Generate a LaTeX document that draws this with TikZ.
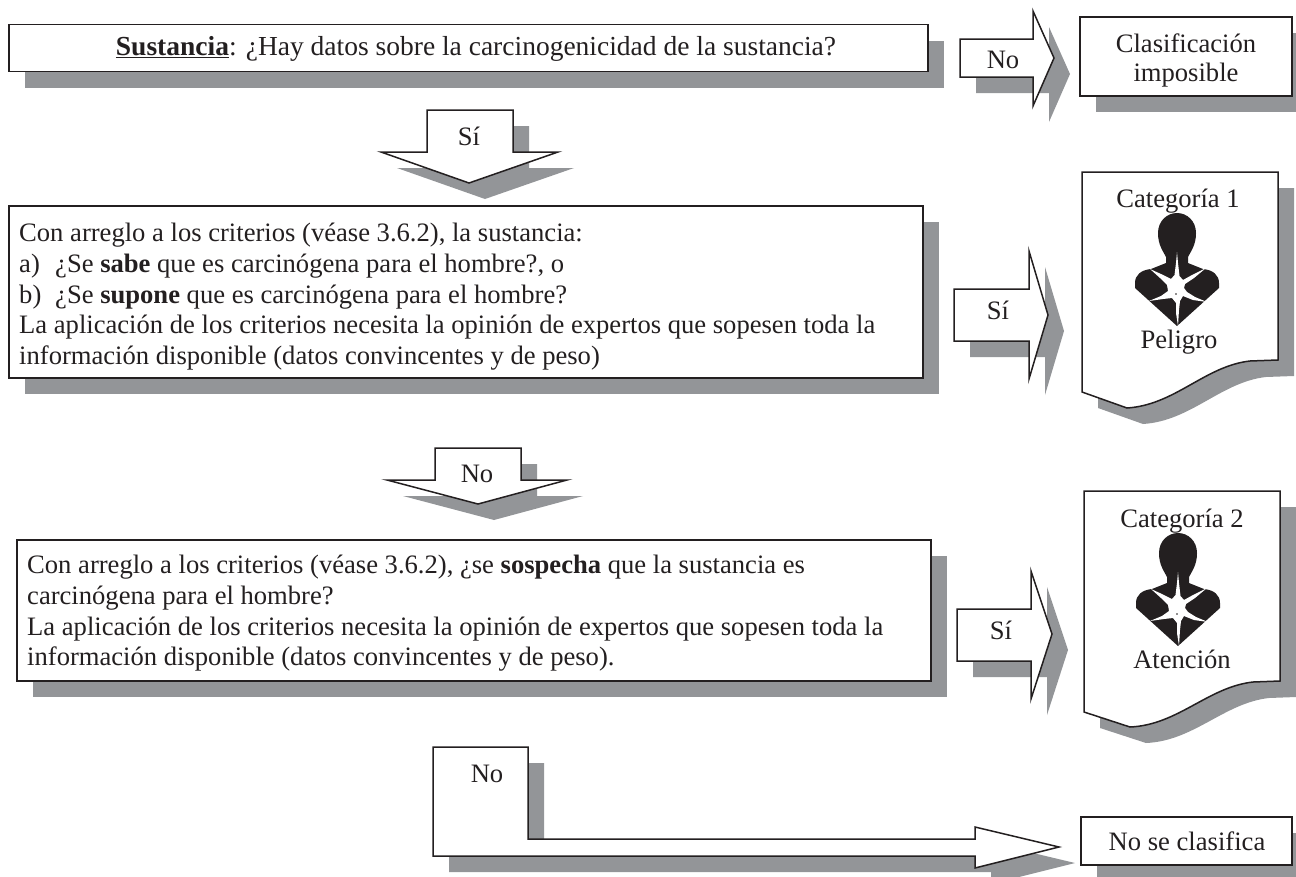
\documentclass[tikz,border=0pt]{standalone}
\usepackage{fontspec}
\setmainfont{Liberation Serif}
\usetikzlibrary{shadows}
\definecolor{ink}{HTML}{231F20}
\definecolor{shadegrey}{HTML}{939598}
\tikzset{
  shad/.style={drop shadow={shadow xshift=16pt,shadow yshift=-16pt,opacity=1,fill=shadegrey}},
  outline/.style={draw=ink,fill=white,line width=1.5pt,miter limit=20,shad},
  box/.style={outline,anchor=north west,inner sep=0pt,outer sep=0pt},
  label/.style={anchor=base,inner sep=0pt,text=ink,font=\fontsize{26.6}{31}\selectfont},
  para/.style={anchor=north west,inner sep=0pt,text=ink,align=left,font=\fontsize{26.6}{30.7}\selectfont},
  hazard/.pic={
    \fill[ink] (-11,44) .. controls (-14,38) and (-19,32) .. (-19,20)
      .. controls (-19,8) and (-10,0) .. (0,0)
      .. controls (10,0) and (19,8) .. (19,20)
      .. controls (19,32) and (14,38) .. (11,44) -- (11,50) -- (26,56)
      .. controls (36,57) and (42,62) .. (42,70) -- (42,75) -- (0,113) -- (-42,75) -- (-42,70)
      .. controls (-42,62) and (-36,57) .. (-26,56) -- (-11,50) -- cycle;
    \fill[white] (0,39) -- (1,50) -- (2.5,63) -- (6,67) -- (15,62) -- (29,55) -- (17,65) -- (8,71) -- (7,75) -- (10,79) -- (18,84) -- (30,89) -- (16,87) -- (6,83)
      -- (3,88) -- (2,97) -- (1,113) -- (-1,100) -- (-1,90) -- (-5,85) -- (-14,86) -- (-28,88) -- (-16,83) -- (-9,78) -- (-10,72) -- (-17,65) -- (-27,56) -- (-16,61) -- (-6,66) -- (-2.5,62) -- (-1,50) -- cycle;
    \fill[ink] (-1,81) circle (0.8);
  }
}
\begin{document}
\begin{tikzpicture}[x=1pt,y=-1pt]
\useasboundingbox (0,0) rectangle (1296,876);
\begin{scope}
\clip (0,0) rectangle (1296,876);
% boxes
\node[box,minimum width=919pt,minimum height=47pt] (b1) at (9,24.5) {};
\node[box,minimum width=914pt,minimum height=172pt] (b2) at (9,206) {};
\node[box,minimum width=914pt,minimum height=141pt] (b3) at (17,540) {};
\node[box,minimum width=212pt,minimum height=79pt] (c1) at (1080,17) {};
\node[box,minimum width=211pt,minimum height=48pt] (c2) at (1081,817) {};
% documents
\draw[outline] (1082,172) -- (1278,172) -- (1278,360) -- (1250,361) .. controls (1205,366) and (1175,405) .. (1127,408) -- (1082,392) -- cycle;
\draw[outline] (1084,491) -- (1280,491) -- (1280,681) -- (1253,682) .. controls (1208,687) and (1178,725) .. (1130,727) -- (1084,712) -- cycle;
% block arrows
\draw[outline] (960,39) -- (1033,39) -- (1033,11) -- (1054,58) -- (1033,106) -- (1033,77) -- (960,77) -- cycle;
\draw[outline] (427,110) -- (513,110) -- (513,152) -- (558,152) -- (469,183) -- (381,152) -- (427,152) -- cycle;
\draw[outline] (954,289) -- (1029,289) -- (1029,251) -- (1048,315) -- (1029,379) -- (1029,341) -- (954,341) -- cycle;
\draw[outline] (435,448) -- (521,448) -- (521,480) -- (567,480) -- (478,504) -- (387,480) -- (435,480) -- cycle;
\draw[outline] (957,609) -- (1031,609) -- (1031,571) -- (1052,634) -- (1031,699) -- (1031,661) -- (957,661) -- cycle;
\draw[outline] (433,747) -- (528,747) -- (528,839) -- (975,839) -- (975,827) -- (1059,847) -- (975,868) -- (975,856) -- (433,856) -- cycle;
\end{scope}
% hazard symbols
\pic at (1177,213) {hazard};
\pic at (1178,533) {hazard};
% text
\node[label,font=\fontsize{27.5}{31}\selectfont] (t1) at (476,55) {\underline{\textbf{Sustancia}}: ¿Hay datos sobre la carcinogenicidad de la sustancia?};
\node[label] (t2) at (1003,68) {No};
\node[label] (t3) at (1186,52) {Clasificación};
\node[label] (t4) at (1186,81) {imposible};
\node[label] (t5) at (469,145) {Sí};
\node[para] (t6) at (19,223) {Con arreglo a los criterios (véase 3.6.2), la sustancia:\\
\makebox[36pt][l]{a)}¿Se \textbf{sabe} que es carcinógena para el hombre?, o\\
\makebox[36pt][l]{b)}¿Se \textbf{supone} que es carcinógena para el hombre?\\
La aplicación de los criterios necesita la opinión de expertos que sopesen toda la\\
información disponible (datos convincentes y de peso)};
\node[label] (t7) at (998,319) {Sí};
\node[label] (t8) at (1178,207) {Categoría 1};
\node[label] (t9) at (1179,348) {Peligro};
\node[label] (t10) at (477,482) {No};
\node[para] (t11) at (27,555) {Con arreglo a los criterios (véase 3.6.2), ¿se \textbf{sospecha} que la sustancia es\\
carcinógena para el hombre?\\
La aplicación de los criterios necesita la opinión de expertos que sopesen toda la\\
información disponible (datos convincentes y de peso).};
\node[label] (t12) at (1001,639) {Sí};
\node[label] (t13) at (1182,527) {Categoría 2};
\node[label] (t14) at (1182,668) {Atención};
\node[label] (t15) at (487,782) {No};
\node[label] (t16) at (1187,850) {No se clasifica};
\end{tikzpicture}
\end{document}
